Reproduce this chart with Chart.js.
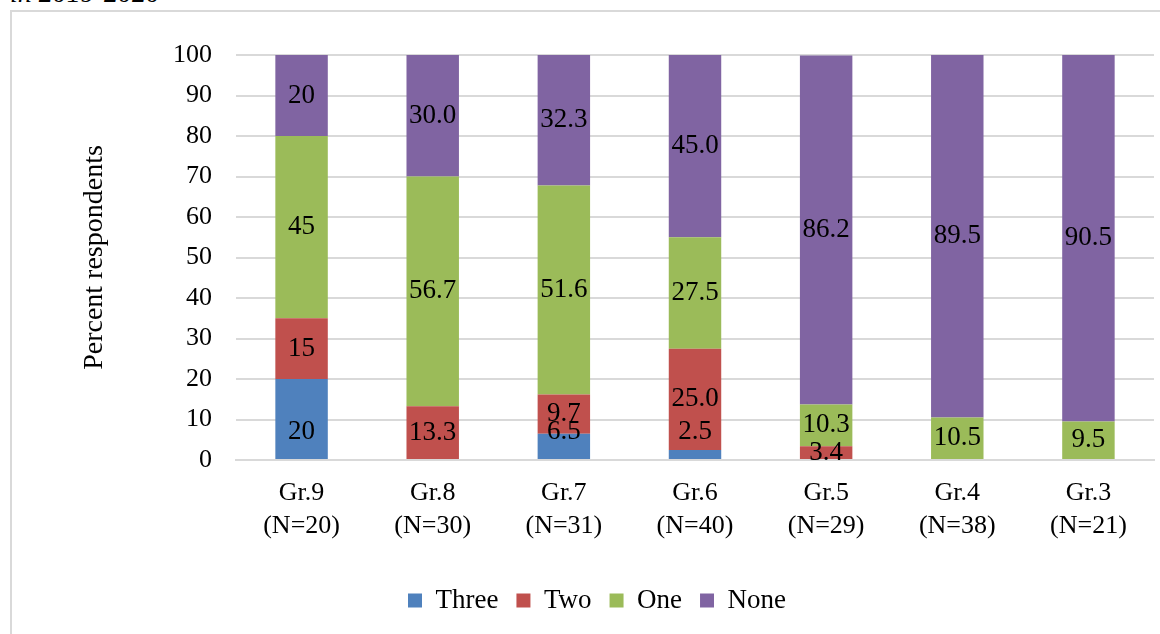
<!DOCTYPE html>
<html>
<head>
<meta charset="utf-8">
<script src="https://cdn.jsdelivr.net/npm/chart.js@4/dist/chart.umd.min.js"></script>
<style>
  html, body { margin: 0; padding: 0; background: #fff; }
  #page { position: relative; width: 1160px; height: 634px; overflow: hidden; }
  #caption {
    position: absolute; left: 10px; top: -23px;
    font: italic 28px "Liberation Serif", "Times New Roman", serif; color: #000;
    white-space: nowrap;
  }
  #frame {
    position: absolute; left: 10px; top: 10px; width: 1160px; height: 640px;
    border-left: 2px solid #d9d9d9; border-top: 2px solid #d9d9d9;
    box-sizing: border-box;
  }
  #wrap { position: absolute; left: 0; top: 0; width: 1160px; height: 634px; }
</style>
</head>
<body>
<div id="page">
  <div id="caption">in 2019-2020</div>
  <div id="frame"></div>
  <div id="wrap"><canvas id="chart"></canvas></div>
</div>
<script>
// Grade groups and sample sizes
const grades = ['Gr.9', 'Gr.8', 'Gr.7', 'Gr.6', 'Gr.5', 'Gr.4', 'Gr.3'];
const sampleSizes = ['(N=20)', '(N=30)', '(N=31)', '(N=40)', '(N=29)', '(N=38)', '(N=21)'];

// Percent of respondents per answer group
const three = [20, 0, 6.5, 2.5, 0, 0, 0];
const two   = [15, 13.3, 9.7, 25.0, 3.4, 0, 0];
const one   = [45, 56.7, 51.6, 27.5, 10.3, 10.5, 9.5];
const none  = [20, 30.0, 32.3, 45.0, 86.2, 89.5, 90.5];

// Decimal places used in each grade's value labels
const labelDecimals = [0, 1, 1, 1, 1, 1, 1];

const yTicks = [0, 10, 20, 30, 40, 50, 60, 70, 80, 90, 100];

const FONT = '"Liberation Serif", "Times New Roman", serif';

// Writes each segment's value inside the bar
const valueLabels = {
  id: 'valueLabels',
  afterDatasetsDraw(chart, args, opts) {
    const ctx = chart.ctx;
    ctx.save();
    ctx.font = '27px ' + FONT;
    ctx.fillStyle = '#000';
    ctx.textAlign = 'center';
    ctx.textBaseline = 'middle';
    chart.data.datasets.forEach((ds, di) => {
      const meta = chart.getDatasetMeta(di);
      if (meta.hidden) return;
      meta.data.forEach((bar, i) => {
        const v = ds.data[i];
        if (v == null || v === 0) return;
        const atBase = (opts.baseSeries || []).includes(ds.label);
        const y = atBase ? bar.base - 27 : (bar.y + bar.base) / 2;
        ctx.fillText(v.toFixed(labelDecimals[i]), bar.x, y);
      });
    });
    ctx.restore();
  }
};

new Chart(document.getElementById('chart'), {
  type: 'bar',
  data: {
    labels: grades.map((g, i) => [g, sampleSizes[i]]),
    datasets: [
      { label: 'Three', data: three, backgroundColor: '#4F81BD' },
      { label: 'Two',   data: two,   backgroundColor: '#C0504D' },
      { label: 'One',   data: one,   backgroundColor: '#9BBB59' },
      { label: 'None',  data: none,  backgroundColor: '#8064A2' }
    ]
  },
  options: {
    responsive: true,
    maintainAspectRatio: false,
    animation: false,
    events: [],
    layout: { padding: { left: 40, right: 6, top: 55, bottom: 10 } },
    datasets: { bar: { categoryPercentage: 1.0, barPercentage: 0.4, borderWidth: 0 } },
    scales: {
      x: {
        stacked: true,
        grid: { display: false, drawTicks: false },
        border: { display: true, color: '#d9d9d9', width: 2 },
        ticks: {
          color: '#000', padding: 17,
          font: { family: FONT, size: 26, lineHeight: 1.27 },
          maxRotation: 0, autoSkip: false
        },
        afterFit(scale) { scale.height = 109; }
      },
      y: {
        stacked: true,
        min: 0, max: 100,
        afterBuildTicks(scale) { scale.ticks = yTicks.map(v => ({ value: v })); },
        grid: { color: '#d9d9d9', lineWidth: 2, drawTicks: false },
        border: { display: false },
        ticks: {
          color: '#000', padding: 24,
          font: { family: FONT, size: 26 }
        },
        title: {
          display: true, text: 'Percent respondents', color: '#000',
          font: { family: FONT, size: 28 },
          padding: { top: 38, bottom: 0 }
        },
        afterFit(scale) { scale.width = 196; }
      }
    },
    plugins: {
      legend: {
        position: 'bottom',
        labels: {
          color: '#000', boxWidth: 14, boxHeight: 14, padding: 18,
          font: { family: FONT, size: 27 }
        }
      },
      tooltip: { enabled: false },
      valueLabels: { baseSeries: ['Three'] }
    }
  },
  plugins: [valueLabels]
});
</script>
</body>
</html>
